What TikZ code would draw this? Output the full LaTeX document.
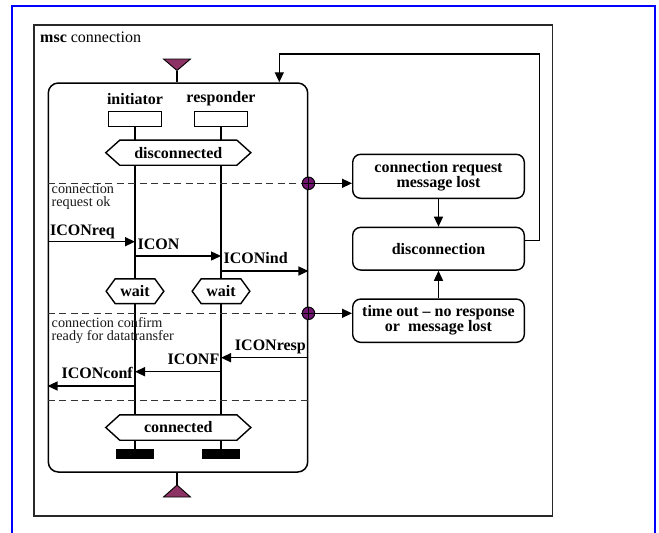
\documentclass[tikz,border=0pt]{standalone}
\usepackage{fontspec}
\setmainfont{Liberation Serif}
\usetikzlibrary{arrows.meta}
\definecolor{gatefill}{RGB}{112,20,112}
\definecolor{trifill}{RGB}{140,50,100}
\definecolor{framegray}{RGB}{40,40,40}

% hexagonal condition outline drawn around a named node
\newcommand\hexframe[2]{%
  \draw[condline] (#1.west) -- ([xshift=#2]#1.north west) -- ([xshift=-#2]#1.north east)
    -- (#1.east) -- ([xshift=-#2]#1.south east) -- ([xshift=#2]#1.south west) -- cycle;}

\begin{document}
\begin{tikzpicture}[x=1pt,y=-1pt,
  big/.style={font=\fontsize{16}{17}\selectfont},
  lbl/.style={font=\fontsize{16}{17}\selectfont\bfseries, inner sep=0pt},
  note/.style={font=\fontsize{14.2}{13.2}\selectfont, text=black!90, align=left, inner sep=0pt, anchor=north west},
  headbox/.style={draw, line width=1.4pt, minimum width=52.7pt, minimum height=15pt, inner sep=0pt},
  cond/.style={font=\fontsize{16}{17}\selectfont\bfseries, inner sep=0pt},
  condline/.style={line width=1.4pt, line join=miter},
  stopbar/.style={fill=black, draw=black, minimum width=36.7pt, minimum height=9pt, inner sep=0pt},
  life/.style={line width=2pt},
  msg/.style={line width=1.4pt, -{Triangle[length=10pt,width=9pt]}},
  sep/.style={line width=1.3pt, draw=black!80, dash pattern=on 7pt off 4.5pt},
  gate/.style={circle, draw, fill=gatefill, minimum size=12.5pt, inner sep=0pt, line width=1pt,
    path picture={\draw[line width=1pt] (path picture bounding box.north) -- (path picture bounding box.south)
      (path picture bounding box.west) -- (path picture bounding box.east);}},
  state/.style={draw, line width=1.4pt, rounded corners=8pt, minimum width=171.6pt, align=center,
    font=\fontsize{16}{15}\selectfont\bfseries, inner sep=0pt},
]
\useasboundingbox (0,0) rectangle (659,533);

% page frame and diagram frame
\draw[blue, line width=2.2pt] (12,545) -- (12,6) -- (655,6) -- (655,545);
\draw[framegray, line width=1.5pt] (34,25) rectangle (552.7,516);
\node[big, anchor=base west, inner sep=0pt] (title) at (40,42.5) {\textbf{msc} connection};

% inline expression body
\node[draw, line width=1.5pt, rounded corners=10pt, minimum width=259.4pt, minimum height=389pt, inner sep=0pt]
  (body) at (178,277.5) {};

% entry and exit gates
\coordinate (tin) at (177,70.5);
\coordinate (tout) at (177,485);
\draw[line width=0.9pt, fill=trifill] (163.5,59) -- (190.5,59) -- (tin) -- cycle;
\draw[line width=1.4pt] (tin) -- (tin |- body.north);
\draw[line width=0.9pt, fill=trifill] (163.5,497) -- (190.5,497) -- (tout) -- cycle;
\draw[line width=1.4pt] (tout) -- (tout |- body.south);

% instances
\node[lbl] (ilab) at (135,99) {initiator};
\node[lbl] (rlab) at (221,99) {responder};
\node[headbox] (ihead) at (135,119.2) {};
\node[headbox] (rhead) at (221,119.2) {};

% conditions
\node[cond, minimum width=144.7pt, minimum height=24.7pt] (disc) at (178.3,152.7) {disconnected};
\hexframe{disc}{14pt}
\node[cond, minimum width=57.3pt, minimum height=24.3pt] (iwait) at (135,291.2) {wait};
\hexframe{iwait}{9pt}
\node[cond, minimum width=57.3pt, minimum height=24.3pt] (rwait) at (221,291.2) {wait};
\hexframe{rwait}{9pt}
\node[cond, minimum width=144.7pt, minimum height=25pt] (conn) at (178.3,427.5) {connected};
\hexframe{conn}{14pt}

% instance ends
\node[stopbar] (istop) at (135,453.8) {};
\node[stopbar] (rstop) at (221,453.8) {};

% lifelines
\draw[life] (ihead.south) -- (ihead.south |- disc.north);
\draw[life] (ihead.south |- disc.south) -- (iwait.north);
\draw[life] (iwait.south) -- (iwait.south |- conn.north);
\draw[life] (istop.north |- conn.south) -- (istop.north);
\draw[life] (rhead.south) -- (rhead.south |- disc.north);
\draw[life] (rhead.south |- disc.south) -- (rwait.north);
\draw[life] (rwait.south) -- (rwait.south |- conn.north);
\draw[life] (rstop.north |- conn.south) -- (rstop.north);

% phase separators
\coordinate (s1) at (0,183.3);
\coordinate (s2) at (0,313.3);
\coordinate (s3) at (0,400.7);
\draw[sep] (body.west |- s1) -- (body.east |- s1);
\draw[sep] (body.west |- s2) -- (body.east |- s2);
\draw[sep] (body.west |- s3) -- (body.east |- s3);
\node[note] (n1) at (51.5,184) {connection\\request ok};
\node[note] (n2) at (51.5,317.5) {connection confirm\\ready for datatransfer};

% messages
\coordinate (m1) at (0,241.7);
\coordinate (m2) at (0,256);
\coordinate (m3) at (0,271);
\coordinate (m4) at (0,357.7);
\coordinate (m5) at (0,371.7);
\coordinate (m6) at (0,386);
\draw[msg] (body.west |- m1) -- (ihead |- m1);
\draw[msg] (ihead |- m2) -- (rhead |- m2);
\draw[msg] (rhead |- m3) -- (body.east |- m3);
\draw[msg] (body.east |- m4) -- (rhead |- m4);
\draw[msg] (rhead |- m5) -- (ihead |- m5);
\draw[msg] (ihead |- m6) -- (body.west |- m6);
\node[lbl, anchor=base west] (l1) at (50,235) {ICONreq};
\node[lbl, anchor=base west] (l2) at (137.5,249.5) {ICON};
\node[lbl, anchor=base west] (l3) at (223.5,263.5) {ICONind};
\node[lbl, anchor=base east] (l4) at (306,350.5) {ICONresp};
\node[lbl, anchor=base east] (l5) at (219.5,364) {ICONF};
\node[lbl, anchor=base east] (l6) at (133,378.3) {ICONconf};

% exception states
\node[state, minimum height=44pt] (lost) at (438.5,176.3) {connection request\\message lost};
\node[state, minimum height=42.7pt] (discon) at (438.5,248.7) {disconnection};
\node[state, minimum height=43.3pt] (tmo) at (438.5,320.7) {time out -- no response\\or\enspace message lost};

% exit gates on the body border
\node[gate] (g1) at (body.east |- s1) {};
\node[gate] (g2) at (body.east |- s2) {};
\draw[msg] (g1.east) -- (g1 -| lost.west);
\draw[msg] (g2.east) -- (g2 -| tmo.west);
\draw[msg] (lost.south) -- (discon.north);
\draw[msg] (tmo.north) -- (discon.south);

% loop back to the start
\coordinate (loopR) at (539.3,54);
\coordinate (loopL) at (279.3,54);
\draw[msg] ([yshift=8pt]discon.east) -| (loopR) -- (loopL) -- (loopL |- body.north);
\end{tikzpicture}
\end{document}
